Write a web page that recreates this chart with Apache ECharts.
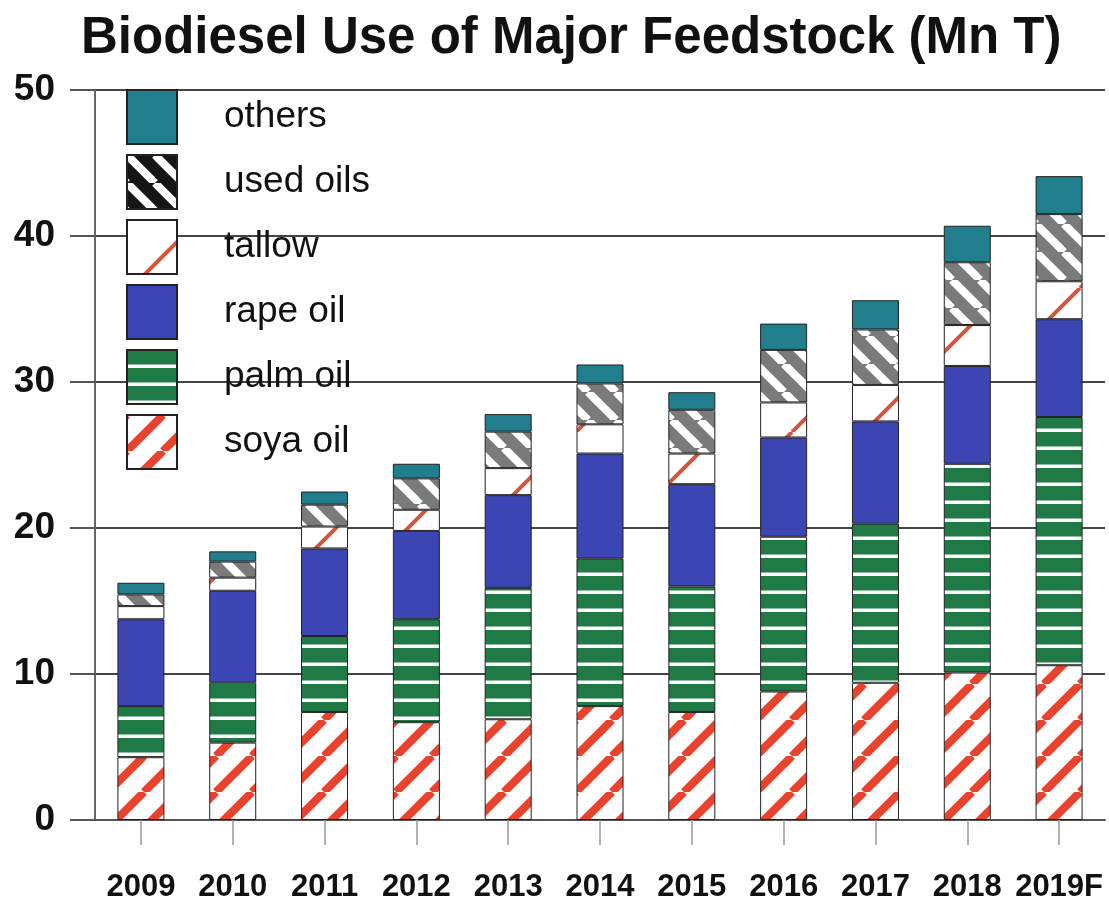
<!DOCTYPE html>
<html>
<head>
<meta charset="utf-8">
<script src="https://cdn.jsdelivr.net/npm/echarts@6/dist/echarts.min.js"></script>
<style>
html,body{margin:0;padding:0;background:#fff;}
#chart{width:1109px;height:909px;}
</style>
</head>
<body>
<div id="chart"></div>
<script>
// ---- data (Mn T) ----
const years = ['2009','2010','2011','2012','2013','2014','2015','2016','2017','2018','2019F'];
const soyaOil  = [4.3, 5.3, 7.4, 6.7, 6.9, 7.8, 7.4, 8.8, 9.4, 10.1, 10.6];
const palmOil  = [3.5, 4.1, 5.2, 7.05, 9.0, 10.1, 8.6, 10.6, 10.9, 14.3, 17.0];
const rapeOil  = [5.95, 6.3, 6.0, 6.05, 6.35, 7.2, 7.0, 6.8, 7.0, 6.7, 6.7];
const tallow   = [0.9, 0.9, 1.5, 1.45, 1.85, 2.0, 2.1, 2.4, 2.5, 2.8, 2.6];
const usedOils = [0.8, 1.1, 1.5, 2.15, 2.5, 2.8, 3.0, 3.6, 3.8, 4.3, 4.6];
const others   = [0.8, 0.7, 0.9, 1.0, 1.2, 1.3, 1.2, 1.8, 2.0, 2.5, 2.6];
const yTicks = [0, 10, 20, 30, 40, 50];

// ---- pattern helpers ----
function diag(bg, fg, size, width, dir) {
  const c = document.createElement('canvas');
  c.width = size; c.height = size;
  const g = c.getContext('2d');
  g.fillStyle = bg; g.fillRect(0, 0, size, size);
  g.strokeStyle = fg; g.lineWidth = width;
  for (const k of [-1, 0, 1]) {
    g.beginPath();
    if (dir === '/') { g.moveTo(k * size, size); g.lineTo(k * size + size, 0); }
    else { g.moveTo(k * size, 0); g.lineTo(k * size + size, size); }
    g.stroke();
  }
  return { image: c, repeat: 'repeat' };
}
function hlines(bg, fg, size, width) {
  const c = document.createElement('canvas');
  c.width = size; c.height = size;
  const g = c.getContext('2d');
  g.fillStyle = bg; g.fillRect(0, 0, size, size);
  g.fillStyle = fg; g.fillRect(0, size - width, size, width);
  return { image: c, repeat: 'repeat' };
}

const soyaPat   = diag('#ffffff', '#e8432f', 36, 8, '/');
const palmPat   = hlines('#1f7a45', '#ffffff', 18, 3.5);
const rapeCol   = '#3b45b3';
const tallowPat = diag('#ffffff', '#d9533a', 72, 4, '/');
const usedPat   = diag('#7a7a7a', '#ffffff', 28, 8, '\\');
const usedLegPat= diag('#151515', '#ffffff', 28, 8, '\\');
const othersCol = '#217e8d';

const font = 'Liberation Sans, Arial, sans-serif';

function mk(name, data, color) {
  return {
    name: name, type: 'bar', stack: 'total', data: data, barWidth: 47,
    itemStyle: { color: color, borderColor: '#222', borderWidth: 1 },
    emphasis: { disabled: true }
  };
}

const chart = echarts.init(document.getElementById('chart'), null, { renderer: 'canvas' });
chart.setOption({
  animation: false,
  backgroundColor: '#ffffff',
  title: {
    text: 'Biodiesel Use of Major Feedstock (Mn T)',
    left: 76, top: 8,
    textStyle: { fontSize: 51, fontWeight: 'bold', fontFamily: font, color: '#111' }
  },
  legend: {
    orient: 'vertical', left: 121, top: 84,
    itemWidth: 50, itemHeight: 54, itemGap: 9, icon: 'rect',
    selectedMode: false,
    textStyle: { fontSize: 37, fontFamily: font, color: '#111', padding: [6, 0, 0, 42] },
    data: [
      { name: 'others' },
      { name: 'used oils', itemStyle: { color: usedLegPat } },
      { name: 'tallow' },
      { name: 'rape oil' },
      { name: 'palm oil' },
      { name: 'soya oil' }
    ]
  },
  grid: { left: 95, right: 4, top: 90, bottom: 89, containLabel: false },
  xAxis: {
    type: 'category', data: years,
    axisLine: { show: true, lineStyle: { color: '#555', width: 2 } },
    axisTick: { show: true, alignWithLabel: true, length: 25, lineStyle: { color: '#999', width: 1.5 } },
    axisLabel: { interval: 0, margin: 52, fontSize: 31, fontWeight: 'bold', fontFamily: font, color: '#111' }
  },
  yAxis: {
    type: 'value', min: yTicks[0], max: yTicks[yTicks.length - 1], interval: 10,
    axisLine: { show: true, lineStyle: { color: '#666', width: 2 } },
    axisTick: { show: true, length: 25, lineStyle: { color: '#555', width: 2 } },
    splitLine: { show: true, lineStyle: { color: '#444', width: 2 } },
    axisLabel: { margin: 40, fontSize: 37, fontWeight: 'bold', fontFamily: font, color: '#111' }
  },
  series: [
    mk('soya oil', soyaOil, soyaPat),
    mk('palm oil', palmOil, palmPat),
    mk('rape oil', rapeOil, rapeCol),
    mk('tallow', tallow, tallowPat),
    mk('used oils', usedOils, usedPat),
    mk('others', others, othersCol)
  ]
});
</script>
</body>
</html>
